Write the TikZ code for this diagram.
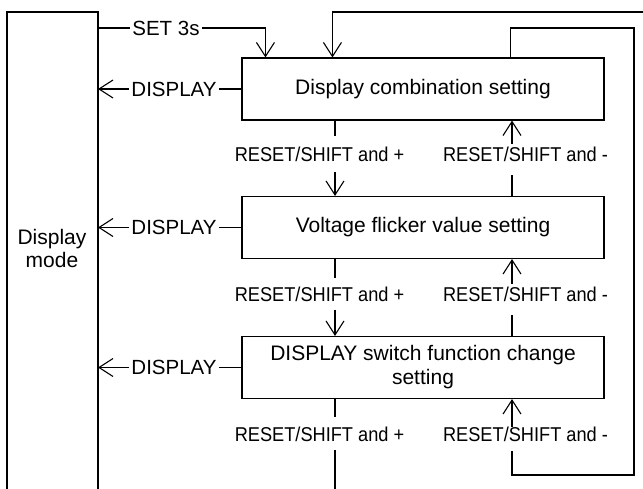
\documentclass[tikz,border=0pt]{standalone}
\usepackage{fontspec}
\setmainfont{Liberation Sans}
\newfontfamily\labfont[FakeStretch=0.91]{Liberation Sans}
\usetikzlibrary{arrows.meta}
\begin{document}
\begin{tikzpicture}[x=1pt,y=-1pt,
  every node/.style={font=\fontsize{20.5}{23.5}\selectfont, inner sep=2.5pt},
  big/.style={font=\fontsize{21}{24}\selectfont},
  lw/.style={line width=1.1pt},
  box/.style={draw, lw, big, minimum width=362pt, minimum height=62pt, align=center, inner sep=0pt},
  arr/.style={lw, -{Straight Barb[length=14pt,width=18pt,line width=1.1pt]}},
  lab/.style={inner sep=0pt, font=\labfont\fontsize{20}{22}\selectfont}]
\useasboundingbox (0,0) rectangle (643,489);

% Display mode box (open at the bottom)
\draw[lw] (7,489) -- (7,12) -- (98,12) -- (98,489);
\node[align=center, font=\fontsize{21}{23}\selectfont] (dm) at (52,248) {Display\\mode};
\coordinate (dm0) at (98,28);
\coordinate (dm1) at (98,89);
\coordinate (dm2) at (98,227.5);
\coordinate (dm3) at (98,367.5);

% setting boxes
\node[box] (b1) at (423,89) {Display combination setting};
\node[box] (b2) at (423,227.5) {Voltage flicker value setting};
\node[box] (b3) at (423,367.5) {DISPLAY switch function change\\setting};

% SET 3s
\node (set) at (166,28) {SET 3s};
\draw[lw] (dm0) -- (set.west);
\draw[arr] (set.east) -| ([xshift=24pt]b1.north west);

% DISPLAY arrows
\node (d1) at (174,89) {DISPLAY};
\node (d2) at (174,227.5) {DISPLAY};
\node (d3) at (174,367.5) {DISPLAY};
\draw[lw] (b1.west) -- (d1.east);
\draw[lw] (b2.west) -- (d2.east);
\draw[lw] (b3.west) -- (d3.east);
\draw[arr] (d1.west) -- (dm1);
\draw[arr] (d2.west) -- (dm2);
\draw[arr] (d3.west) -- (dm3);

% labels
\node[lab] (p1) at (319.5,154) {RESET/SHIFT and +};
\node[lab] (m1) at (525.5,154) {RESET/SHIFT and -};
\node[lab] (p2) at (319.5,294) {RESET/SHIFT and +};
\node[lab] (m2) at (525.5,294) {RESET/SHIFT and -};
\node[lab] (p3) at (319.5,434) {RESET/SHIFT and +};
\node[lab] (m3) at (525.5,434) {RESET/SHIFT and -};

% left column (down, +)
\coordinate (p1a) at (335,136);
\coordinate (p1b) at (335,172);
\coordinate (p2a) at (335,278);
\coordinate (p2b) at (335,310);
\coordinate (p3a) at (335,417);
\coordinate (p3b) at (335,450);
\coordinate (p3c) at (335,489);
\draw[lw] (b1.south -| p1a) -- (p1a);
\draw[arr] (p1b) -- (b2.north -| p1b);
\draw[lw] (b2.south -| p2a) -- (p2a);
\draw[arr] (p2b) -- (b3.north -| p2b);
\draw[lw] (b3.south -| p3a) -- (p3a);
\draw[lw] (p3b) -- (p3c);

% right column (up, -)
\coordinate (m1a) at (512,144);
\coordinate (m1b) at (512,175);
\coordinate (m2a) at (512,284);
\coordinate (m2b) at (512,315);
\coordinate (m3a) at (512,427);
\coordinate (m3b) at (512,451);
\draw[arr] (m1a) -- (b1.south -| m1a);
\draw[lw] (b2.north -| m1b) -- (m1b);
\draw[arr] (m2a) -- (b2.south -| m2a);
\draw[lw] (b3.north -| m2b) -- (m2b);
\draw[arr] (m3a) -- (b3.south -| m3a);

% outer loop (from bottom, re-enters at top)
\coordinate (top) at (643,12);
\draw[arr] (top) -| ([xshift=91pt]b1.north west);

% inner loop
\coordinate (loopR) at (634,28);
\coordinate (loopB) at (634,475);
\draw[lw] ([xshift=269pt]b1.north west) |- (loopR) -- (loopB) -| (m3b);
\end{tikzpicture}
\end{document}
